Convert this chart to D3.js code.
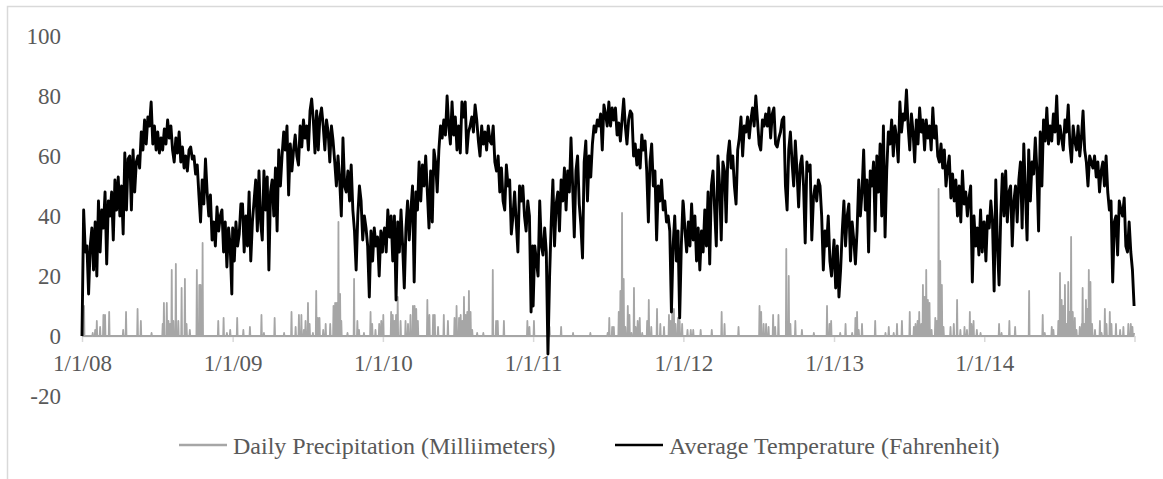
<!DOCTYPE html>
<html>
<head>
<meta charset="utf-8">
<script src="https://d3js.org/d3.v7.min.js"></script>
<style>
  body { margin: 0; background: #fff; }
  svg text { font-family: "Liberation Serif", "Times New Roman", "DejaVu Serif", serif; fill: #595959; }
</style>
</head>
<body>
<div id="chart"></div>
<script>
var svgWidth = 1163;
var svgHeight = 479;

// Average temperature (F), one reading every 4 days from Jan 1 of each year
var temp2008 = [0,42,28,30,14,30,36,22,38,20,45,28,42,36,48,24,45,40,48,32,52,42,53,40,50,34,61,42,59,60,42,62,48,58,60,56,68,62,72,64,73,70,78,64,70,62,68,61,66,62,69,64,72,66,70,62,58,66,61,68,58,63,56,60,55,62,63,59,60,54,57,47,38,52,44,59,48,40,47,32,38,30,43,35,40,42,28,38,23,36,30,14];
var temp2009 = [36,25,38,30,34,44,44,28,40,30,48,25,38,45,52,35,55,38,32,55,42,53,22,48,52,40,56,35,62,50,60,68,62,70,47,64,55,62,67,60,57,70,63,72,66,70,62,75,79,72,61,75,62,73,76,70,62,72,68,58,70,65,58,50,60,52,40,66,50,48,55,45,57,42,35,22,40,50,45,32,40,36,30,13,35,25,36,30,33,20,35,28];
var temp2010 = [32,36,28,42,33,40,25,40,12,38,28,42,30,16,36,45,32,42,50,18,48,42,58,45,57,50,60,48,36,55,38,62,58,48,62,70,66,72,67,80,70,64,78,67,73,62,70,61,78,73,78,61,68,70,73,68,77,72,65,60,70,64,68,62,70,65,64,70,58,55,60,48,56,45,42,57,50,52,34,40,48,38,28,50,45,50,40,35,45,40,8,30];
var temp2011 = [10,30,25,20,45,30,27,36,28,-6,20,38,52,30,44,48,35,52,45,56,42,55,48,66,50,33,55,60,44,37,26,58,65,45,60,53,64,70,68,72,70,74,62,77,74,70,78,70,76,72,76,67,71,65,72,79,70,64,72,75,74,60,64,57,62,56,67,62,65,55,38,58,64,50,55,32,50,45,52,42,45,38,40,35,8,30,40,25,35,6,30,45];
var temp2012 = [44,35,28,38,30,44,32,40,25,36,22,35,28,42,30,48,24,50,55,42,30,60,50,32,58,55,38,60,65,56,60,50,44,62,66,73,60,70,68,73,66,72,76,70,80,72,64,62,72,70,74,70,76,66,74,76,64,63,66,68,72,73,50,42,62,68,58,50,65,55,43,57,60,50,31,58,55,57,32,46,50,45,52,50,40,22,35,30,40,25,20,28];
var temp2013 = [32,16,30,13,22,35,45,30,40,44,25,38,32,24,35,52,40,48,62,42,52,28,55,50,58,35,60,48,64,40,70,33,55,68,64,72,60,70,66,58,78,68,74,72,82,70,62,74,68,58,72,64,76,68,72,62,72,66,70,62,76,66,70,60,58,64,56,62,50,56,60,46,54,45,52,40,50,38,55,44,48,40,46,50,18,40,30,36,27,42,28,38];
var temp2014 = [38,25,40,36,45,38,15,52,30,17,40,54,40,55,38,48,50,30,45,50,38,52,58,36,64,48,32,62,45,58,54,66,55,35,68,50,72,65,76,64,70,65,74,68,80,64,70,66,62,72,68,77,64,58,70,65,62,70,60,66,75,62,58,50,60,58,56,60,53,58,48,55,58,50,60,48,42,45,18,38,40,27,45,42,40,46,30,28,38,28,22,10];

// Daily precipitation (mm): [day of year, value], every other day is 0
var precip2008 = [[5,10],[26,1],[32,2],[36,5],[44,3],[52,7],[56,7],[66,8],[100,2],[107,8],[135,9],[143,5],[169,1],[196,4],[199,11],[206,11],[210,5],[214,4],[218,22],[222,5],[228,24],[234,5],[242,16],[250,19],[254,4],[262,2],[279,22],[285,17],[288,17],[293,31],[331,5],[344,6],[352,1],[360,2]];
var precip2009 = [[11,6],[26,2],[42,3],[70,7],[76,1],[102,6],[125,1],[143,8],[153,3],[161,7],[167,7],[173,2],[177,5],[183,11],[187,4],[195,1],[203,15],[207,6],[211,6],[220,2],[226,4],[237,4],[245,10],[249,11],[253,11],[257,38],[261,14],[264,5],[279,1],[295,19],[303,5],[307,2],[319,1],[335,8],[339,4],[347,2],[356,4],[361,5]];
var precip2010 = [[1,7],[20,8],[24,7],[28,5],[32,7],[36,13],[43,5],[55,5],[61,4],[67,7],[73,10],[77,10],[81,9],[85,5],[108,12],[113,7],[122,7],[126,7],[134,3],[148,7],[158,5],[174,6],[179,10],[185,6],[189,7],[193,5],[197,13],[201,7],[205,8],[209,15],[213,8],[217,2],[229,1],[244,1],[267,22],[275,5],[279,5],[294,5],[351,5],[356,3]];
var precip2011 = [[2,5],[40,3],[68,3],[97,1],[139,1],[181,1],[185,6],[192,3],[196,3],[208,8],[212,15],[216,41],[220,19],[224,3],[230,10],[234,7],[239,1],[245,16],[249,3],[254,5],[259,6],[265,1],[277,5],[281,12],[287,3],[301,9],[309,4],[318,3],[330,7],[334,5],[338,8],[342,9],[346,4],[352,6],[356,5],[362,4]];
var precip2012 = [[10,2],[18,2],[24,2],[42,2],[69,2],[93,8],[100,4],[134,3],[185,10],[189,8],[195,4],[201,4],[207,3],[218,7],[223,3],[231,7],[250,29],[256,20],[260,4],[272,5],[288,2],[317,1],[349,10],[355,4],[359,5]];
var precip2013 = [[15,1],[28,4],[44,1],[52,6],[56,8],[60,2],[68,4],[100,5],[125,1],[133,3],[145,1],[153,4],[165,5],[184,8],[194,3],[198,4],[203,5],[207,8],[212,4],[216,17],[220,13],[224,22],[228,12],[232,11],[237,2],[246,6],[250,5],[254,49],[258,25],[262,17],[266,3],[283,3],[291,4],[299,12],[307,2],[317,3],[323,2],[330,8],[334,4],[339,5],[347,2],[356,1]];
var precip2014 = [[36,4],[42,1],[61,5],[75,3],[109,15],[142,7],[147,1],[164,3],[168,2],[180,5],[184,21],[188,12],[192,10],[196,17],[200,4],[204,18],[208,8],[211,33],[215,8],[220,6],[224,2],[232,3],[237,4],[239,16],[243,4],[247,12],[251,9],[254,22],[258,18],[262,4],[269,2],[281,5],[285,1],[293,9],[297,4],[305,8],[309,4],[320,4],[330,2],[338,3],[350,4],[356,4],[360,3],[364,1]];

var years = [2008, 2009, 2010, 2011, 2012, 2013, 2014];
var yTicks = [-20, 0, 20, 40, 60, 80, 100];
var seriesNames = ["Daily Precipitation (Milliimeters)", "Average Temperature (Fahrenheit)"];

var tempByYear = [temp2008, temp2009, temp2010, temp2011, temp2012, temp2013, temp2014];
var precipByYear = [precip2008, precip2009, precip2010, precip2011, precip2012, precip2013, precip2014];

var serif = '"Liberation Serif", "Times New Roman", "DejaVu Serif", serif';

// build the point lists
var tempData = [];
tempByYear.forEach(function(vals, k) {
  vals.forEach(function(v, i) {
    tempData.push({ date: new Date(years[k], 0, 1 + i * 4), value: v });
  });
});

var precipData = [];
precipByYear.forEach(function(events, k) {
  var yr = years[k];
  var nDays = (yr % 4 === 0) ? 366 : 365;
  var lookup = {};
  events.forEach(function(e) { lookup[e[0]] = e[1]; });
  for (var d = 0; d < nDays; d++) {
    precipData.push({ date: new Date(yr, 0, 1 + d), value: lookup[d] || 0 });
  }
});

var svg = d3.select("#chart")
  .append("svg")
  .attr("width", svgWidth)
  .attr("height", svgHeight);

// chart frame
svg.append("rect")
  .attr("x", 7.5)
  .attr("y", 6.5)
  .attr("width", 1180)
  .attr("height", 500)
  .attr("fill", "none")
  .attr("stroke", "#d9d9d9")
  .attr("stroke-width", 1.5);

var xScale = d3.scaleTime()
  .domain([new Date(2008, 0, 1), new Date(2015, 0, 1)])
  .range([82, 1134.5]);

var yScale = d3.scaleLinear()
  .domain([-20, 100])
  .range([396, 36]);

// x axis sits on zero
var tickDates = years.map(function(y) { return new Date(y, 0, 1); }).concat([new Date(2015, 0, 1)]);
var fmt = d3.timeFormat("%-m/%-d/%y");
var xAxis = svg.append("g")
  .attr("transform", `translate(0, ${yScale(0)})`)
  .call(d3.axisBottom(xScale)
    .tickValues(tickDates)
    .tickSizeInner(6)
    .tickSizeOuter(0)
    .tickPadding(13)
    .tickFormat(function(d) { return d.getFullYear() < 2015 ? fmt(d) : ""; }));
xAxis.attr("font-family", serif);
xAxis.selectAll("path, line")
  .attr("stroke", "#d9d9d9")
  .attr("stroke-width", 1.5);
xAxis.selectAll("text")
  .attr("font-size", 23)
  .attr("font-family", serif)
  .attr("fill", "#595959");

// y axis: labels only, plain hyphen for negatives
var yAxis = svg.append("g")
  .attr("transform", "translate(61, 0)")
  .call(d3.axisLeft(yScale).tickValues(yTicks).tickSize(0).tickPadding(0)
    .tickFormat(function(d) { return String(d); }));
yAxis.attr("font-family", serif);
yAxis.select(".domain").remove();
yAxis.selectAll("text")
  .attr("font-size", 23)
  .attr("font-family", serif)
  .attr("fill", "#595959");

var line = d3.line()
  .x(d => xScale(d.date))
  .y(d => yScale(d.value));

svg.append("path")
  .datum(precipData)
  .attr("fill", "none")
  .attr("stroke", "#a6a6a6")
  .attr("stroke-width", 1.8)
  .attr("stroke-linejoin", "round")
  .attr("d", line);

svg.append("path")
  .datum(tempData)
  .attr("fill", "none")
  .attr("stroke", "#000")
  .attr("stroke-width", 2.9)
  .attr("stroke-linejoin", "round")
  .attr("d", line);

// legend
var legendItems = [
  { name: seriesNames[0], color: "#a6a6a6", x: 179 },
  { name: seriesNames[1], color: "#000", x: 615 }
];
var legend = svg.selectAll(".legend")
  .data(legendItems)
  .enter()
  .append("g")
  .attr("class", "legend")
  .attr("transform", d => `translate(${d.x}, 445)`);

legend.append("line")
  .attr("x1", 0)
  .attr("x2", 48)
  .attr("stroke", d => d.color)
  .attr("stroke-width", 2.3);

legend.append("text")
  .attr("x", 54)
  .attr("y", 9)
  .attr("font-size", 24)
  .attr("font-family", serif)
  .text(d => d.name);
</script>
</body>
</html>
